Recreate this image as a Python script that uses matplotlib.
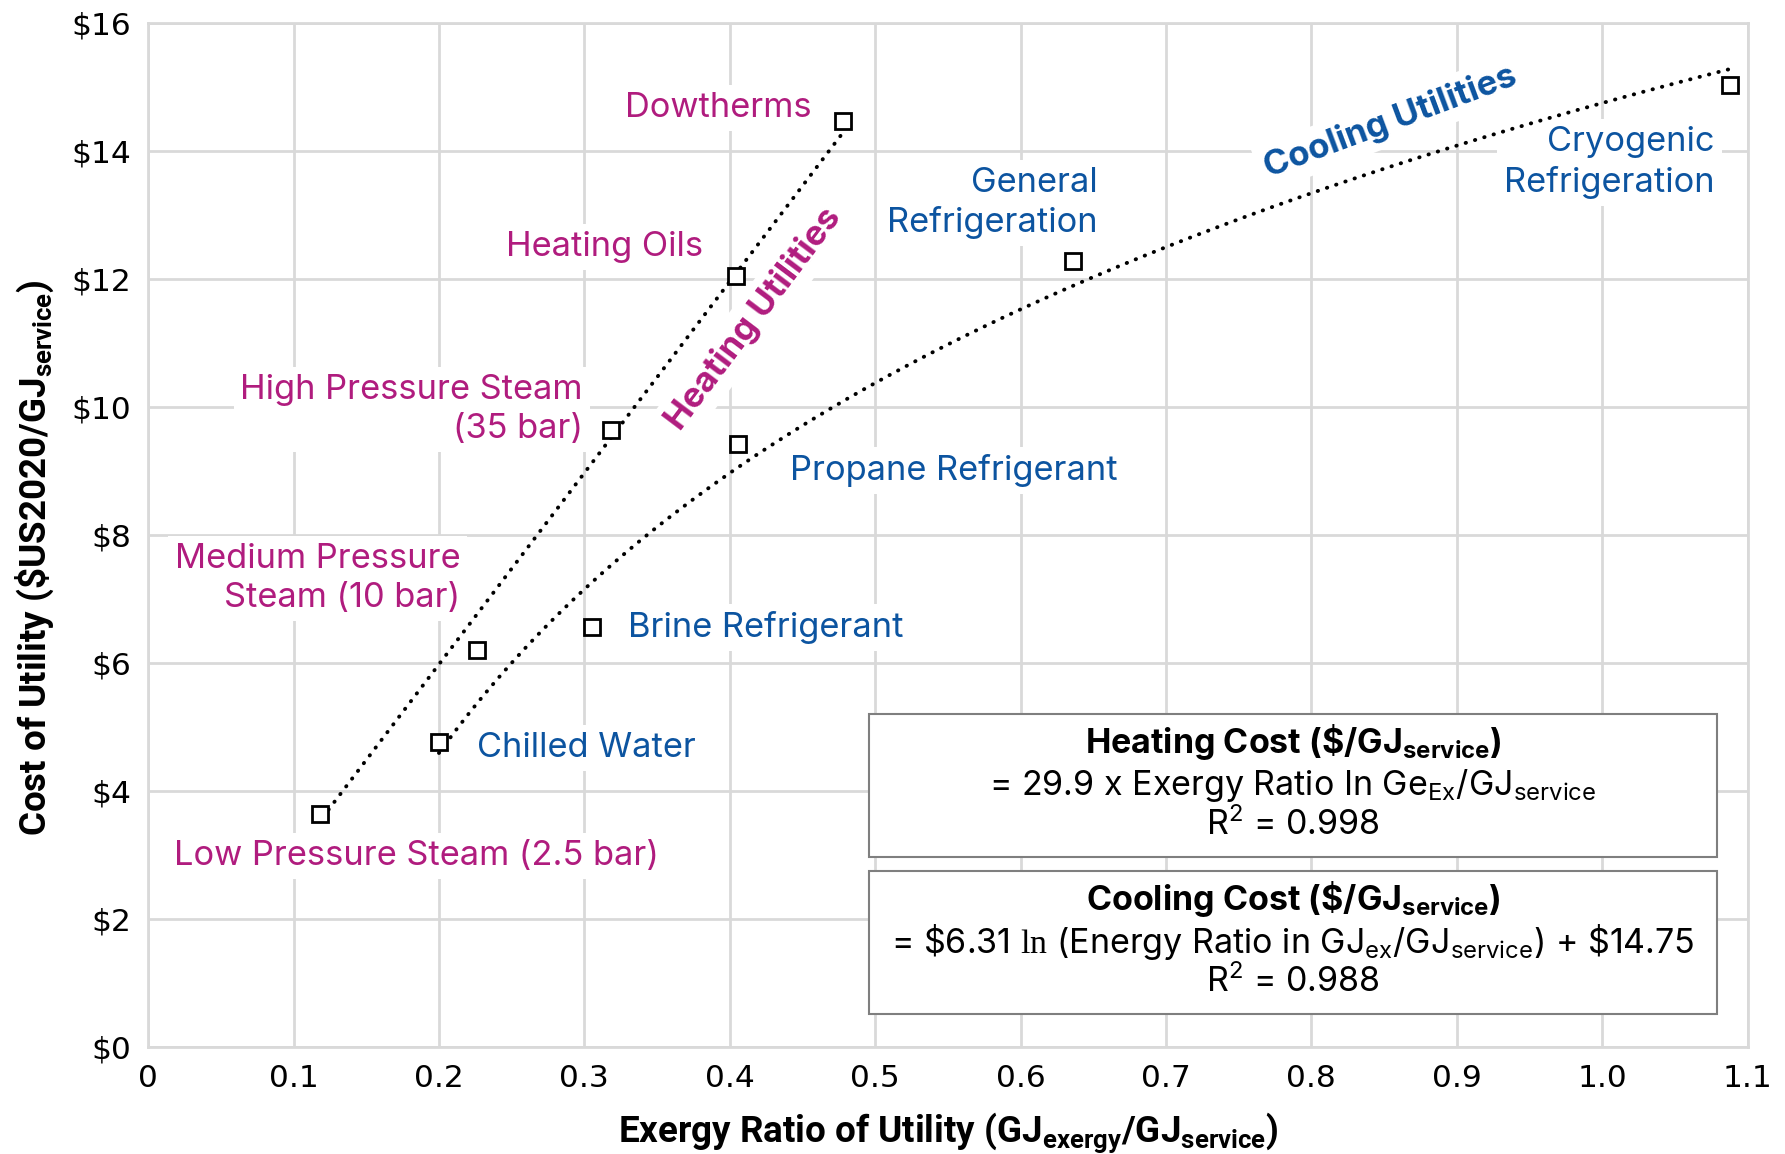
import numpy as np
import matplotlib
matplotlib.use("Agg")
import matplotlib.pyplot as plt
from matplotlib.patches import Rectangle

plt.rcParams["font.family"] = ["Inter", "DejaVu Sans"]
plt.rcParams["mathtext.default"] = "regular"
plt.rcParams["mathtext.fontset"] = "custom"
plt.rcParams["mathtext.sf"] = "Liberation Serif"

MAGENTA = "#B01C7E"
BLUE = "#0C54A0"
GRID = "#D9D9D9"

# heating utilities (exergy ratio, cost $/GJ)
heat_names = ["Low Pressure Steam (2.5 bar)", "Medium Pressure\nSteam (10 bar)",
              "High Pressure Steam\n(35 bar)", "Heating Oils", "Dowtherms"]
heat_x = [0.118, 0.226, 0.318, 0.404, 0.478]
heat_y = [3.64, 6.20, 9.64, 12.05, 14.47]

# cooling utilities
cool_names = ["Chilled Water", "Brine Refrigerant", "Propane Refrigerant",
              "General\nRefrigeration", "Cryogenic\nRefrigeration"]
cool_x = [0.200, 0.305, 0.406, 0.636, 1.088]
cool_y = [4.76, 6.56, 9.42, 12.29, 15.04]

# fitted trend coefficients
heat_slope = 29.9
cool_a, cool_b = 6.31, 14.75
heat_range = [0.12, 0.48]
cool_range = [0.20, 1.09]

x_ticks = [0, 0.1, 0.2, 0.3, 0.4, 0.5, 0.6, 0.7, 0.8, 0.9, 1.0, 1.1]
x_tick_labels = ["0", "0.1", "0.2", "0.3", "0.4", "0.5", "0.6", "0.7", "0.8", "0.9", "1.0", "1.1"]
y_ticks = [0, 2, 4, 6, 8, 10, 12, 14, 16]
y_tick_labels = ["$0", "$2", "$4", "$6", "$8", "$10", "$12", "$14", "$16"]

# label placement: (x, y, ha)
heat_label_pos = [(0.018, 2.98, "left"), (0.2146, 7.32, "right"), (0.299, 9.96, "right"),
                  (0.3814, 12.5, "right"), (0.4566, 14.67, "right")]
cool_label_pos = [(0.2263, 4.67, "left"), (0.3297, 6.56, "left"), (0.4417, 9.01, "left"),
                  (0.653, 13.19, "right"), (1.0776, 13.82, "right")]

fig = plt.figure(figsize=(17.85, 11.54), dpi=100)
ax = fig.add_axes([0.083, 0.0927, 0.896, 0.8873])

ax.set_xlim(0, 1.1)
ax.set_ylim(0, 16)
ax.set_xticks(x_ticks)
ax.set_xticklabels(x_tick_labels)
ax.set_yticks(y_ticks)
ax.set_yticklabels(y_tick_labels)
ax.tick_params(length=0, labelsize=22.5, pad=12)
for lab in ax.get_xticklabels() + ax.get_yticklabels():
    lab.set_fontfamily("DejaVu Sans")
ax.grid(True, color=GRID, lw=2, zorder=0)
ax.set_axisbelow(True)
for s in ax.spines.values():
    s.set_color(GRID)
    s.set_linewidth(2)

dots = dict(color="black", lw=2.8, linestyle=(0, (0.1, 2.4)), dash_capstyle="round", zorder=3)
hx = np.linspace(heat_range[0], heat_range[1], 50)
ax.plot(hx, heat_slope * hx, **dots)
cx = np.linspace(cool_range[0], cool_range[1], 200)
ax.plot(cx, cool_a * np.log(cx) + cool_b, **dots)

mk = dict(marker="s", ms=11, mfc="white", mec="black", mew=2, ls="none", zorder=5)
ax.plot(heat_x, heat_y, **mk)
ax.plot(cool_x, cool_y, **mk)

bg = dict(facecolor="white", edgecolor="none", pad=5)
for name, (tx, ty, ha) in zip(heat_names, heat_label_pos):
    ax.text(tx, ty, name, color=MAGENTA, fontsize=24.8, ha=ha, va="center",
            linespacing=1.3, bbox=bg, zorder=2)
for name, (tx, ty, ha) in zip(cool_names, cool_label_pos):
    ax.text(tx, ty, name, color=BLUE, fontsize=24.8, ha=ha, va="center",
            linespacing=1.3, bbox=bg, zorder=2)

ax.text(0.4166, 11.38, "Heating Utilities", color=MAGENTA, fontsize=25, fontweight="bold",
        rotation=53, ha="center", va="center", rotation_mode="anchor", bbox=bg, zorder=2)
ax.text(0.8544, 14.46, "Cooling Utilities", color=BLUE, fontsize=25, fontweight="bold",
        rotation=20.5, ha="center", va="center", rotation_mode="anchor", bbox=bg, zorder=2)

# equation boxes
for y0, y1 in [(0.1854, 0.3254), (0.0319, 0.172)]:
    ax.add_patch(Rectangle((0.4507, y0), 0.981 - 0.4507, y1 - y0, transform=ax.transAxes,
                           facecolor="white", edgecolor="#7F7F7F", lw=1.5, zorder=6))
bx = (0.4507 + 0.981) / 2
eq = dict(transform=ax.transAxes, ha="center", va="center", fontsize=24.5, zorder=7)
ax.text(bx, 0.2977, r"Heating Cost (\$/GJ$_{service}$)", fontweight="bold", **eq)
ax.text(bx, 0.2554, r"= 29.9 x Exergy Ratio In Ge$_{Ex}$/GJ$_{service}$", **eq)
ax.text(bx, 0.2176, r"R$^{2}$ = 0.998", **eq)
ax.text(bx, 0.1442, r"Cooling Cost (\$/GJ$_{service}$)", fontweight="bold", **eq)
ax.text(bx, 0.1030, r"= \$6.31 $\mathsf{ln}$ (Energy Ratio in GJ$_{ex}$/GJ$_{service}$) + \$14.75", **eq)
ax.text(bx, 0.0642, r"R$^{2}$ = 0.988", **eq)

ax.set_xlabel(r"Exergy Ratio of Utility (GJ$_{exergy}$/GJ$_{service}$)", fontsize=26.5,
              fontweight="bold", fontfamily=["Roboto", "DejaVu Sans"], va="center")
ax.xaxis.set_label_coords(0.5, -0.084)
ax.set_ylabel(r"Cost of Utility (\$US2020/GJ$_{service}$)", fontsize=26.5,
              fontweight="bold", fontfamily=["Roboto", "DejaVu Sans"], va="center")
ax.yaxis.set_label_coords(-0.071, 0.478)

fig.savefig("out.png", dpi=100)
